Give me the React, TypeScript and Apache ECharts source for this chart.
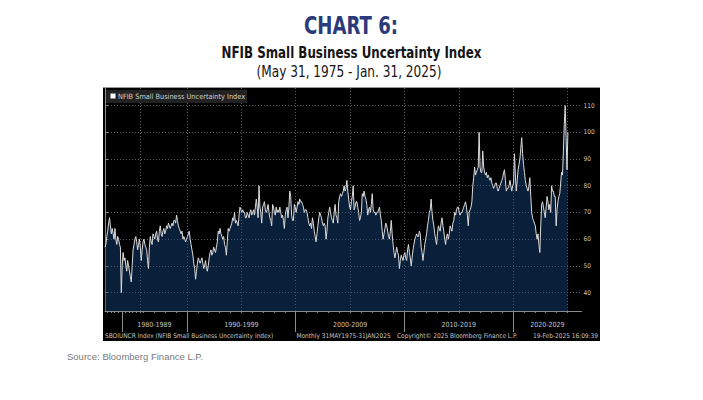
import React, { useEffect, useRef } from 'react';
import * as echarts from 'echarts';

// NFIB Small Business Uncertainty Index — quarterly survey 1975-05 .. 1985-11
const quarterlyValues = [
  57, 58, 61, // 1975 May, Aug, Nov
  63, 66, 68, 65, // 1976
  62, 64, 62, 60, // 1977
  64, 60, 58, 61, // 1978
  60, 58, 57, 40, // 1979
  50, 55, 52, 53, // 1980
  50, 48, 52, 50, // 1981
  48, 46, 44, 50, // 1982
  56, 58, 60, 61, // 1983
  59, 56, 58, 60, // 1984
  57, 52, 56, 59, // 1985
];
const quarterMonths = [2, 5, 8, 11];

// Monthly survey 1986-01 .. 2025-01 (one row per year)
const monthlyValues = [
  60, 58, 57, 56, 52, 49, 57, 61, 59, 58, 62, 61, // 1986
  60, 62, 63, 60, 59, 63, 65, 62, 61, 63, 64, 62, // 1987
  63, 65, 64, 66, 65, 64, 65, 66, 65, 67, 67, 66, // 1988
  69, 67, 65, 64, 63, 62, 63, 60, 61, 60, 59, 60, // 1989
  61, 62, 63, 60, 58, 56, 54, 51, 49, 45, 48, 51, // 1990
  53, 52, 51, 52, 53, 51, 49, 50, 52, 49, 48, 50, // 1991
  53, 55, 56, 54, 55, 57, 56, 55, 57, 59, 63, 62, // 1992
  64, 62, 61, 60, 61, 58, 57, 54, 59, 64, 63, 64, // 1993
  65, 66, 68, 67, 70, 66, 67, 66, 65, 69, 72, 71, // 1994
  70, 71, 70, 70, 68, 68, 70, 69, 68, 70, 71, 69, // 1995
  70, 71, 69, 72, 75, 72, 68, 80, 72, 70, 66, 72, // 1996
  73, 74, 71, 70, 71, 73, 70, 68, 67, 65, 73, 72, // 1997
  70, 69, 72, 70, 71, 70, 72, 70, 68, 69, 67, 64, // 1998
  69, 71, 72, 68, 72, 78, 76, 69, 67, 67, 73, 72, // 1999
  70, 72, 74, 73, 75, 74, 74, 73, 72, 70, 71, 71, // 2000
  70, 68, 66, 65, 66, 64, 68, 66, 63, 61, 59, 62, // 2001
  65, 68, 70, 69, 68, 66, 65, 66, 65, 60, 63, 68, // 2002
  70, 72, 70, 68, 67, 66, 70, 73, 69, 68, 66, 74, // 2003
  76, 77, 76, 77, 78, 80, 78, 79, 82, 78, 75, 72, // 2004
  71, 74, 76, 80, 71, 72, 74, 74, 72, 70, 67, 68, // 2005
  70, 77, 76, 78, 76, 75, 73, 69, 71, 72, 70, 73, // 2006
  77, 71, 70, 70, 69, 70, 70, 71, 72, 69, 67, 63, // 2007
  60, 62, 64, 66, 65, 63, 61, 60, 63, 67, 62, 58, // 2008
  55, 53, 55, 57, 55, 54, 49, 52, 54, 53, 52, 54, // 2009
  55, 53, 52, 56, 58, 55, 53, 50, 53, 56, 58, 60, // 2010
  61, 62, 61, 61, 63, 62, 57, 55, 52, 55, 58, 60, // 2011
  62, 65, 67, 70, 71, 75, 70, 67, 65, 62, 60, 58, // 2012
  62, 65, 64, 63, 66, 68, 65, 63, 60, 58, 61, 62, // 2013
  60, 62, 65, 64, 63, 66, 67, 70, 69, 71, 72, 72, // 2014
  70, 69, 70, 70, 71, 72, 73, 74, 72, 69, 65, 70, // 2015
  71, 72, 74, 80, 83, 87, 84, 85, 86, 87, 100, 87, // 2016
  85, 85, 93, 87, 85, 84, 85, 83, 84, 83, 82, 83, // 2017
  81, 80, 79, 80, 81, 81, 79, 78, 79, 80, 81, 82, // 2018
  83, 85, 86, 82, 78, 79, 79, 80, 82, 80, 78, 80, // 2019
  81, 92, 84, 78, 82, 86, 88, 90, 94, 98, 92, 88, // 2020
  85, 82, 80, 79, 78, 80, 83, 76, 70, 68, 67, 66, // 2021
  65, 62, 60, 62, 58, 55, 65, 73, 74, 72, 70, 68, // 2022
  72, 76, 74, 71, 73, 70, 80, 78, 78, 76, 76, 65, // 2023
  71, 74, 76, 77, 81, 85, 84, 93, 103, 110, 98, 86, // 2024
  100, // 2025 Jan
];

const yTickValues = [40, 50, 60, 70, 80, 90, 100, 110];
const decadeStartYears = [1980, 1990, 2000, 2010, 2020];
const decadeLabels = ['1980-1989', '1990-1999', '2000-2009', '2010-2019', '2020-2029'];

// observation dates (year, month)
const dates: { y: number; m: number }[] = [];
{
  let qi = 0;
  for (let y = 1975; y <= 1985; y++) {
    for (const m of quarterMonths) {
      if (y === 1975 && m < 5) continue;
      if (qi < quarterlyValues.length) dates.push({ y, m });
      qi++;
    }
  }
  let y = 1986, m = 1;
  for (let i = 0; i < monthlyValues.length; i++) {
    dates.push({ y, m });
    m++;
    if (m > 12) { m = 1; y++; }
  }
}
const values = [...quarterlyValues, ...monthlyValues];

function yearBoundary(year: number): number {
  const i = dates.findIndex((d) => d.y >= year);
  return i < 0 ? dates.length - 0.5 : i - 0.5;
}

const X_MAX = 526;
const yearBounds: number[] = [];
for (let y = 1976; y <= 2025; y++) yearBounds.push(yearBoundary(y));
const fiveYearBounds: number[] = [];
for (let y = 1985; y <= 2025; y += 5) fiveYearBounds.push(yearBoundary(y));
const decadeBounds = decadeStartYears.map(yearBoundary);
const decadeMids = decadeBounds.map((b, i) =>
  (b + (i + 1 < decadeBounds.length ? decadeBounds[i + 1] : X_MAX)) / 2
);

const FONT_BBG = "'DejaVu Sans Condensed', 'DejaVu Sans', sans-serif";
const FONT_TITLE = "'DejaVu Sans Condensed', 'DejaVu Sans', sans-serif";
const FONT_SRC = "'Liberation Sans', Arial, sans-serif";

export default function App() {
  const ref = useRef<HTMLDivElement>(null);
  useEffect(() => {
    if (!ref.current) return;
    const chart = echarts.init(ref.current, undefined, { renderer: 'svg' });
    const axisGray = '#8c8c8c';
    const labelGray = '#c4c4c4';
    const footer = (text: string, x: number, align: string) => ({
      type: 'text', z: 51, x, y: 335.5,
      style: { text, fill: labelGray, font: `6.5px ${FONT_BBG}`, textAlign: align, textVerticalAlign: 'middle' },
    });
    chart.setOption({
      animation: false,
      backgroundColor: '#ffffff',
      grid: { left: 105, right: 121.5, top: 88, bottom: 89, containLabel: false },
      xAxis: [
        {
          type: 'value', min: 0, max: X_MAX, position: 'bottom',
          axisLine: { show: true, lineStyle: { color: axisGray, width: 1 } },
          axisTick: { show: true, customValues: yearBounds, length: 2, lineStyle: { color: axisGray } },
          axisLabel: { show: false },
          splitLine: { show: false },
        },
        {
          type: 'value', min: 0, max: X_MAX, position: 'bottom',
          axisLine: { show: false },
          axisTick: { show: true, customValues: decadeBounds, length: 21, lineStyle: { color: axisGray } },
          axisLabel: {
            show: true, customValues: decadeMids, margin: 10,
            color: labelGray, fontSize: 7, fontFamily: FONT_BBG,
            formatter: (v: number) => {
              const k = decadeMids.findIndex((m) => Math.abs(m - v) < 0.01);
              return k >= 0 ? decadeLabels[k] : '';
            },
          },
          splitLine: { show: false },
        },
        {
          type: 'value', min: 0, max: X_MAX, position: 'bottom',
          axisLine: { show: false },
          axisTick: { show: false, customValues: fiveYearBounds },
          axisLabel: { show: false },
          splitLine: { show: true, lineStyle: { color: '#616161', width: 1, type: [1, 2] } },
        },
      ],
      yAxis: {
        type: 'value', position: 'right', min: 33.1, max: 116.6,
        axisLine: { show: true, lineStyle: { color: axisGray } },
        axisTick: { show: true, customValues: yTickValues, length: 3, lineStyle: { color: axisGray } },
        axisLabel: { customValues: yTickValues, color: labelGray, fontSize: 6.5, margin: 2, fontFamily: FONT_BBG },
        splitLine: { show: true, lineStyle: { color: '#616161', width: 1, type: [1, 2] } },
      },
      series: [
        {
          type: 'line',
          xAxisIndex: 0,
          yAxisIndex: 0,
          data: values.map((v, i) => [i, v]),
          showSymbol: false,
          symbol: 'none',
          lineStyle: { color: '#dcdcdc', width: 1 },
          areaStyle: { color: 'rgba(22,66,122,0.68)', origin: 'start' },
          z: 3,
        },
      ],
      graphic: [
        { type: 'rect', z: -100, shape: { x: 103, y: 87, width: 497, height: 254 }, style: { fill: '#000000' } },
        { type: 'line', z: 50, shape: { x1: 103, y1: 87.5, x2: 600, y2: 87.5 }, style: { stroke: '#9a9a9a', lineWidth: 1 } },
        { type: 'rect', z: 50, shape: { x: 106, y: 90, width: 141, height: 13 }, style: { fill: '#222222' } },
        { type: 'rect', z: 51, shape: { x: 110.5, y: 93.5, width: 5, height: 5 }, style: { fill: '#ffffff' } },
        {
          type: 'text', z: 51, x: 118, y: 96.5,
          style: { text: 'NFIB Small Business Uncertainty Index', fill: '#d0d0d0', font: `7.3px ${FONT_BBG}`, textAlign: 'left', textVerticalAlign: 'middle' },
        },
        footer('SBOIUNCR Index (NFIB Small Business Uncertainty Index)', 105, 'left'),
        footer('Monthly 31MAY1975-31JAN2025', 296.5, 'left'),
        footer('Copyright© 2025 Bloomberg Finance L.P.', 397, 'left'),
        footer('19-Feb-2025 16:09:39', 598, 'right'),
        {
          type: 'text', z: 51, x: 351, y: 25.5, scaleX: 0.84,
          style: { text: 'CHART 6:', fill: '#2b3a7a', font: `bold 24px ${FONT_TITLE}`, textAlign: 'center', textVerticalAlign: 'middle' },
        },
        {
          type: 'text', z: 51, x: 351.5, y: 52.5, scaleX: 0.88,
          style: { text: 'NFIB Small Business Uncertainty Index', fill: '#151515', font: `bold 15px ${FONT_TITLE}`, textAlign: 'center', textVerticalAlign: 'middle' },
        },
        {
          type: 'text', z: 51, x: 349, y: 71.5, scaleX: 0.9,
          style: { text: '(May 31, 1975 - Jan. 31, 2025)', fill: '#151515', font: `15px ${FONT_TITLE}`, textAlign: 'center', textVerticalAlign: 'middle' },
        },
        {
          type: 'text', z: 51, x: 67, y: 356.5,
          style: { text: 'Source: Bloomberg Finance L.P.', fill: '#7a7a7a', font: `9.5px ${FONT_SRC}`, textAlign: 'left', textVerticalAlign: 'middle' },
        },
      ],
    });
    return () => chart.dispose();
  }, []);
  return (
    <div
      ref={ref}
      style={{ position: 'absolute', left: 0, top: 0, width: 703, height: 400 }}
    />
  );
}
